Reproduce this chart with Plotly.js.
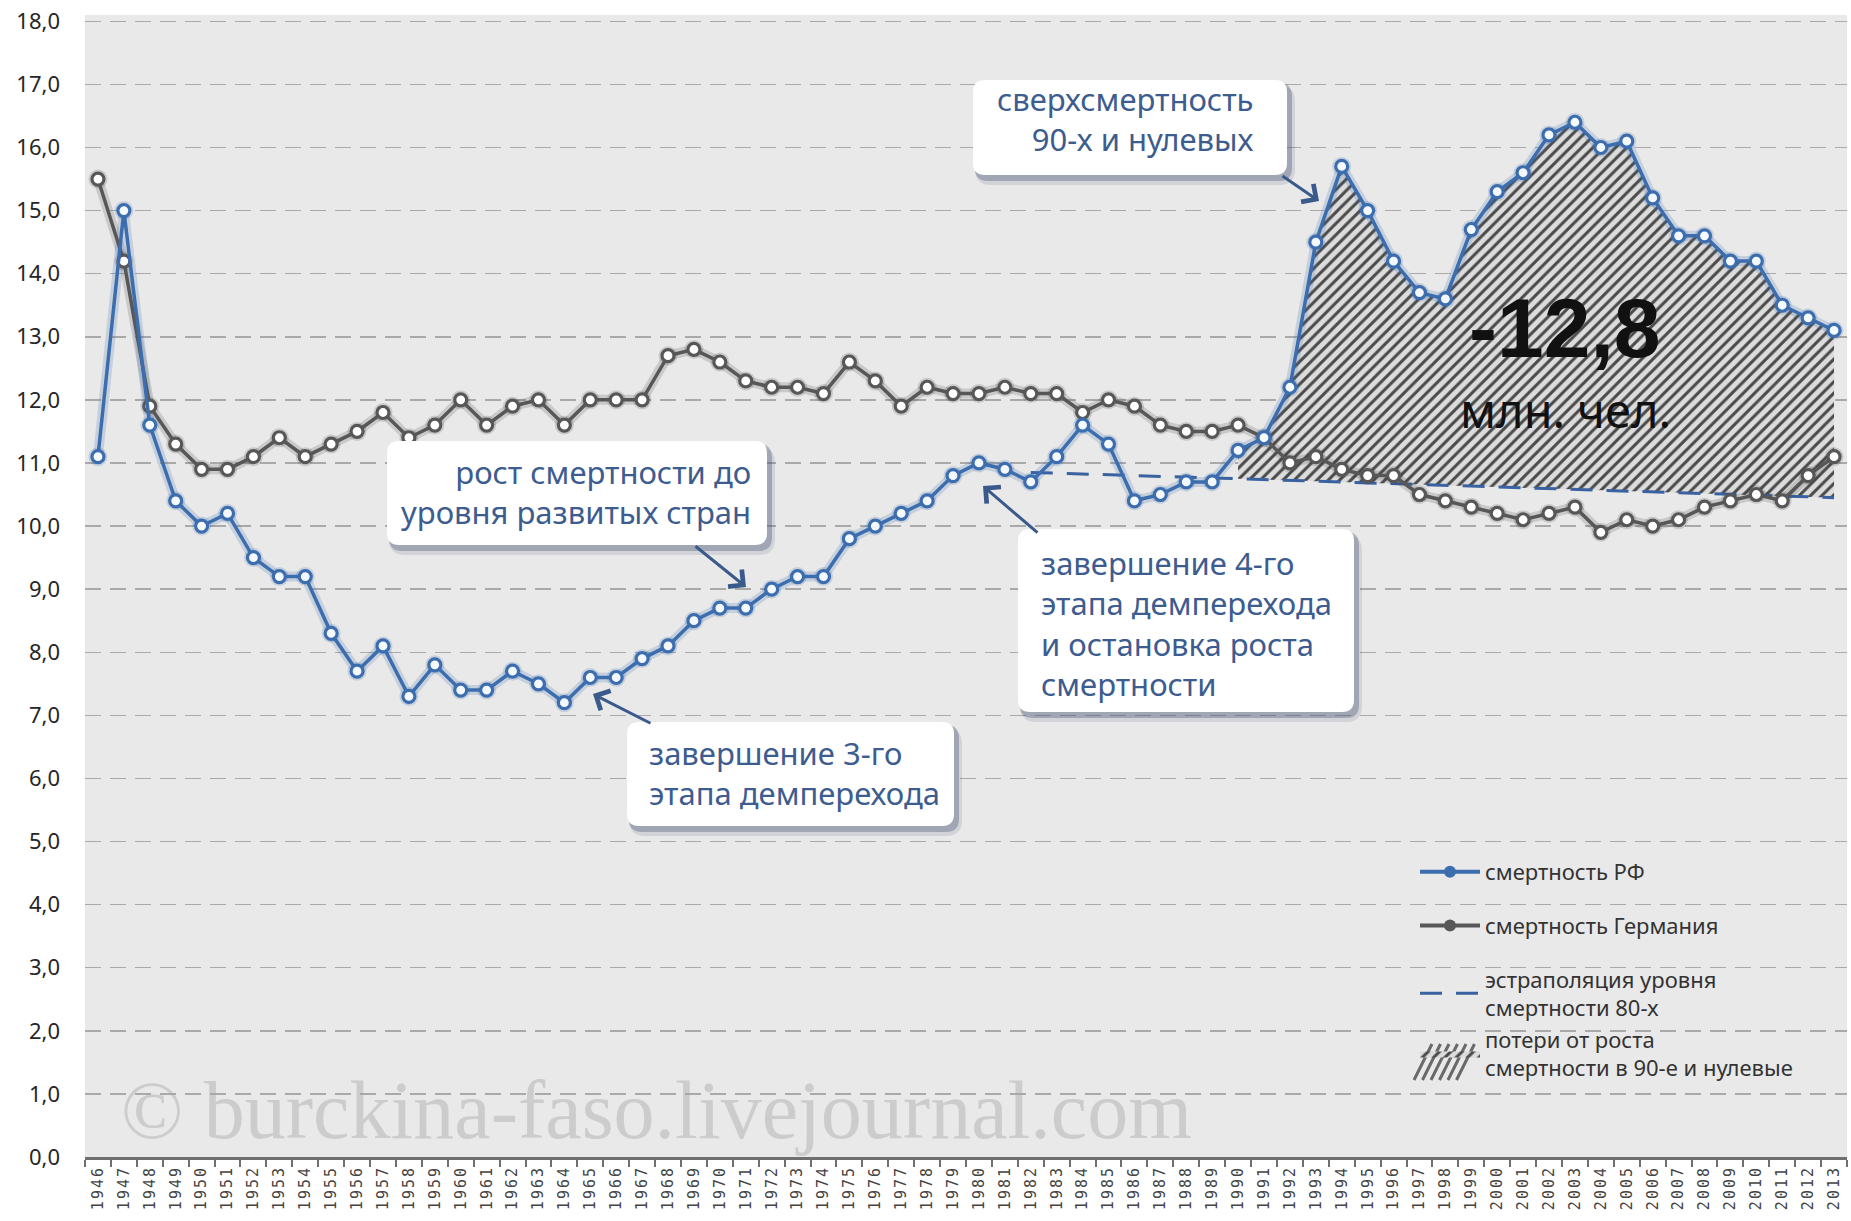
<!DOCTYPE html>
<html>
<head>
<meta charset="utf-8">
<script src="https://cdn.plot.ly/plotly-3.0.1.min.js"></script>
<style>
html,body{margin:0;padding:0;background:#ffffff;}
#chart{width:1851px;height:1221px;}
.xaxislayer-above .xtick text{letter-spacing:2px;}
</style>
</head>
<body>
<div id="chart"></div>
<script>
// ---------------- DATA ----------------
const years = ['1946','1947','1948','1949','1950','1951','1952','1953','1954','1955',
  '1956','1957','1958','1959','1960','1961','1962','1963','1964','1965',
  '1966','1967','1968','1969','1970','1971','1972','1973','1974','1975',
  '1976','1977','1978','1979','1980','1981','1982','1983','1984','1985',
  '1986','1987','1988','1989','1990','1991','1992','1993','1994','1995',
  '1996','1997','1998','1999','2000','2001','2002','2003','2004','2005',
  '2006','2007','2008','2009','2010','2011','2012','2013'];

// смертность РФ (per 1000)
const russiaRate = [11.1,15.0,11.6,10.4,10.0,10.2,9.5,9.2,9.2,8.3,
  7.7,8.1,7.3,7.8,7.4,7.4,7.7,7.5,7.2,7.6,
  7.6,7.9,8.1,8.5,8.7,8.7,9.0,9.2,9.2,9.8,
  10.0,10.2,10.4,10.8,11.0,10.9,10.7,11.1,11.6,11.3,
  10.4,10.5,10.7,10.7,11.2,11.4,12.2,14.5,15.7,15.0,
  14.2,13.7,13.6,14.7,15.3,15.6,16.2,16.4,16.0,16.1,
  15.2,14.6,14.6,14.2,14.2,13.5,13.3,13.1];

// смертность Германия (per 1000)
const germanyRate = [15.5,14.2,11.9,11.3,10.9,10.9,11.1,11.4,11.1,11.3,
  11.5,11.8,11.4,11.6,12.0,11.6,11.9,12.0,11.6,12.0,
  12.0,12.0,12.7,12.8,12.6,12.3,12.2,12.2,12.1,12.6,
  12.3,11.9,12.2,12.1,12.1,12.2,12.1,12.1,11.8,12.0,
  11.9,11.6,11.5,11.5,11.6,11.4,11.0,11.1,10.9,10.8,
  10.8,10.5,10.4,10.3,10.2,10.1,10.2,10.3,9.9,10.1,
  10.0,10.1,10.3,10.4,10.5,10.4,10.8,11.1];

// экстраполяция уровня смертности 80-х
const extrapYears = ['1982','1990','2013'];
const extrapRate = [10.85, 10.75, 10.45];

// начало периода потерь
const lossStartYear = '1990';

const yTicks = [0,1,2,3,4,5,6,7,8,9,10,11,12,13,14,15,16,17,18];

const seriesNames = {
  russia: 'смертность РФ',
  germany: 'смертность Германия',
  extrap: 'эстраполяция уровня<br>смертности 80-х',
  loss: 'потери от роста<br>смертности в 90-е и нулевые'
};

const notes = {
  excess: 'сверхсмертность<br>90-х и нулевых',
  growth: 'рост смертности до<br>уровня развитых стран',
  stage3: 'завершение 3-го<br>этапа демперехода',
  stage4: 'завершение 4-го<br>этапа демперехода<br>и остановка роста<br>смертности',
  lossValue: '-12,8',
  lossUnit: 'млн. чел.',
  watermark: '© burckina-faso.livejournal.com'
};

// ---------------- DERIVED ----------------
const lossIdx = years.indexOf(lossStartYear);
const lossYears = years.slice(lossIdx);
const lossRussia = russiaRate.slice(lossIdx);
const baseIdx = extrapYears.indexOf(lossStartYear);
const baseYears = extrapYears.slice(baseIdx);
const baseRate = extrapRate.slice(baseIdx);

// ---------------- STYLE / GEOMETRY ----------------
const BLUE = '#3c6dae';
const GRAY = '#575757';
const NOTE = '#3d5c8f';
const W = 1851, H = 1221;
const M = {l: 85, r: 4, t: 15, b: 64};
const PX0 = M.l, PX1 = W - M.r, PY0 = M.t, PY1 = H - M.b;
const xp = X => (X - PX0) / (PX1 - PX0);
const yp = Y => (PY1 - Y) / (PY1 - PY0);

function roundRect(x0, y0, x1, y1, r) {
  const p = (X, Y) => xp(X).toFixed(5) + ',' + yp(Y).toFixed(5);
  return 'M' + p(x0 + r, y0) + ' L' + p(x1 - r, y0) + ' Q' + p(x1, y0) + ' ' + p(x1, y0 + r) +
    ' L' + p(x1, y1 - r) + ' Q' + p(x1, y1) + ' ' + p(x1 - r, y1) +
    ' L' + p(x0 + r, y1) + ' Q' + p(x0, y1) + ' ' + p(x0, y1 - r) +
    ' L' + p(x0, y0 + r) + ' Q' + p(x0, y0) + ' ' + p(x0 + r, y0) + ' Z';
}

// boxes in page pixels [x0,y0,x1,y1]
const boxes = [
  [973, 80, 1287, 175],
  [387, 441, 767, 545],
  [627, 722, 954, 826],
  [1018, 529, 1354, 712]
];
const shapes = [];
boxes.forEach(b => {
  shapes.push({type: 'path', xref: 'paper', yref: 'paper', layer: 'above',
    path: roundRect(b[0] + 2, b[1] + 6, b[2] + 8, b[3] + 10, 16),
    fillcolor: 'rgba(70,80,115,0.14)', line: {width: 0}});
  shapes.push({type: 'path', xref: 'paper', yref: 'paper', layer: 'above',
    path: roundRect(b[0] + 2, b[1] + 3, b[2] + 5, b[3] + 6, 13),
    fillcolor: 'rgba(60,70,105,0.32)', line: {width: 0}});
  shapes.push({type: 'path', xref: 'paper', yref: 'paper', layer: 'above',
    path: roundRect(b[0], b[1], b[2], b[3], 12),
    fillcolor: '#ffffff', line: {width: 0}});
});

// enlarged hatched key next to the legend entry of the loss area
(function () {
  const kx0 = 1414, ky0 = 1044, ky1 = 1080, step = 8.5, slant = 18;
  let d = '';
  for (let i = 0; i < 6; i++) {
    const xb = kx0 + i * step;
    d += 'M' + xp(xb).toFixed(5) + ',' + yp(ky1).toFixed(5) +
      ' L' + xp(xb + slant).toFixed(5) + ',' + yp(ky0).toFixed(5) + ' ';
  }
  shapes.push({type: 'path', xref: 'paper', yref: 'paper', layer: 'above', path: d,
    line: {color: '#6a6a6a', width: 3}});
})();

const noteFont = {family: 'Noto Sans, Open Sans, sans-serif', size: 31, color: NOTE};
function arrow(tx, ty, hx, hy) {
  return {xref: 'paper', yref: 'paper', x: xp(hx), y: yp(hy), ax: tx - hx, ay: ty - hy,
    text: '', showarrow: true, arrowhead: 4, arrowsize: 1.4, arrowwidth: 3,
    arrowcolor: '#3b5a8c', standoff: 0, startstandoff: 0};
}

const annotations = [
  {xref: 'paper', yref: 'paper', x: xp(1256), y: yp(119), xanchor: 'right', yanchor: 'middle',
    align: 'right', text: notes.excess, showarrow: false, font: noteFont},
  {xref: 'paper', yref: 'paper', x: xp(753), y: yp(492), xanchor: 'right', yanchor: 'middle',
    align: 'right', text: notes.growth, showarrow: false, font: noteFont},
  {xref: 'paper', yref: 'paper', x: xp(647), y: yp(773), xanchor: 'left', yanchor: 'middle',
    align: 'left', text: notes.stage3, showarrow: false, font: noteFont},
  {xref: 'paper', yref: 'paper', x: xp(1039), y: yp(623), xanchor: 'left', yanchor: 'middle',
    align: 'left', text: notes.stage4, showarrow: false, font: noteFont},
  arrow(1281, 175, 1319, 201),
  arrow(694, 545, 746, 587),
  arrow(652, 724, 593, 694),
  arrow(1039, 534, 983, 486),
  {xref: 'paper', yref: 'paper', x: xp(1564), y: yp(328), xanchor: 'center', yanchor: 'middle',
    text: notes.lossValue, showarrow: false,
    font: {family: 'Liberation Sans, Arial, sans-serif', size: 84, weight: 700, color: '#111'}},
  {xref: 'paper', yref: 'paper', x: xp(1565), y: yp(410), xanchor: 'center', yanchor: 'middle',
    text: notes.lossUnit, showarrow: false,
    font: {family: 'Noto Sans, sans-serif', size: 47, color: '#111'}},
  {xref: 'paper', yref: 'paper', x: xp(656), y: yp(1110), xanchor: 'center', yanchor: 'middle',
    text: notes.watermark, showarrow: false,
    font: {family: 'Liberation Serif, DejaVu Serif, serif', size: 82, color: 'rgba(165,165,165,0.42)'}}
];

// ---------------- TRACES ----------------
const glow = (c) => ({color: c, width: 10});
const traces = [
  // base of loss area (extrapolated level)
  {type: 'scatter', mode: 'lines', x: baseYears, y: baseRate, line: {width: 0, color: 'rgba(0,0,0,0)'},
    showlegend: false, hoverinfo: 'skip'},
  // loss area
  {type: 'scatter', mode: 'lines', x: lossYears, y: lossRussia, fill: 'tonexty',
    fillcolor: '#d4d4d4', fillpattern: {shape: '/', bgcolor: '#dcdcdc', fgcolor: '#4a4a4a', size: 8, solidity: 0.38},
    line: {width: 0, color: 'rgba(0,0,0,0)'}, name: seriesNames.loss, legendrank: 4, legendgroup: 'g3'},
  // extrapolation
  {type: 'scatter', mode: 'lines', x: extrapYears, y: extrapRate,
    line: {color: '#3a62a0', width: 3, dash: '22px,14px'}, name: seriesNames.extrap, legendrank: 3, legendgroup: 'g3'},
  // glow underlays
  {type: 'scatter', mode: 'lines+markers', x: years, y: germanyRate, showlegend: false,
    line: glow('rgba(60,60,60,0.18)'), marker: {size: 19, color: 'rgba(60,60,60,0.18)'}},
  {type: 'scatter', mode: 'lines+markers', x: years, y: russiaRate, showlegend: false,
    line: glow('rgba(60,109,174,0.20)'), marker: {size: 19, color: 'rgba(60,109,174,0.20)'}},
  // Germany
  {type: 'scatter', mode: 'lines+markers', x: years, y: germanyRate, name: seriesNames.germany,
    line: {color: GRAY, width: 3.5}, marker: {size: 12, color: '#ffffff', line: {color: GRAY, width: 3.2}},
    showlegend: false},
  // Russia
  {type: 'scatter', mode: 'lines+markers', x: years, y: russiaRate, name: seriesNames.russia,
    line: {color: BLUE, width: 3.5}, marker: {size: 12, color: '#f4f9ff', line: {color: BLUE, width: 3.2}},
    showlegend: false},
  // legend entries (filled markers as in the original key)
  {type: 'scatter', mode: 'lines+markers', x: [null], y: [null], name: seriesNames.russia,
    line: {color: BLUE, width: 4}, marker: {size: 12, color: BLUE}, legendrank: 1, legendgroup: 'g1'},
  {type: 'scatter', mode: 'lines+markers', x: [null], y: [null], name: seriesNames.germany,
    line: {color: GRAY, width: 4}, marker: {size: 12, color: GRAY}, legendrank: 2, legendgroup: 'g2'}
];

const layout = {
  width: W, height: H,
  margin: M,
  paper_bgcolor: '#ffffff',
  plot_bgcolor: '#e9e9e9',
  font: {family: 'Noto Sans, sans-serif', color: '#333'},
  separators: ', ',
  showlegend: true,
  legend: {x: xp(1415), y: yp(851), xanchor: 'left', yanchor: 'top',
    bgcolor: 'rgba(0,0,0,0)', borderwidth: 0, traceorder: 'grouped', tracegroupgap: 22,
    font: {family: 'Noto Sans, sans-serif', size: 22, color: '#333'}, itemwidth: 60},
  xaxis: {type: 'category', categoryorder: 'array', categoryarray: years,
    range: [-0.5, years.length - 0.5], fixedrange: true,
    tickson: 'boundaries', ticks: 'outside', ticklen: 7, tickwidth: 2, tickcolor: '#6f6f6f',
    showline: true, linecolor: '#6f6f6f', linewidth: 3, showgrid: false, zeroline: false,
    tickangle: -90, tickfont: {family: 'DejaVu Sans Mono, monospace', size: 15, color: '#444'},
    automargin: false},
  yaxis: {range: [0, 18.1], tickvals: yTicks, tickformat: '.1f', fixedrange: true,
    showgrid: true, gridcolor: '#a9a9a9', gridwidth: 1.5, griddash: '16px,9px',
    zeroline: false, showline: false, ticks: '', ticklabelstandoff: 24,
    tickfont: {family: 'Noto Sans, sans-serif', size: 22, color: '#262626'}, automargin: false},
  shapes: shapes,
  annotations: annotations,
  hovermode: false
};

Plotly.newPlot('chart', traces, layout, {staticPlot: true, displayModeBar: false});
</script>
</body>
</html>
